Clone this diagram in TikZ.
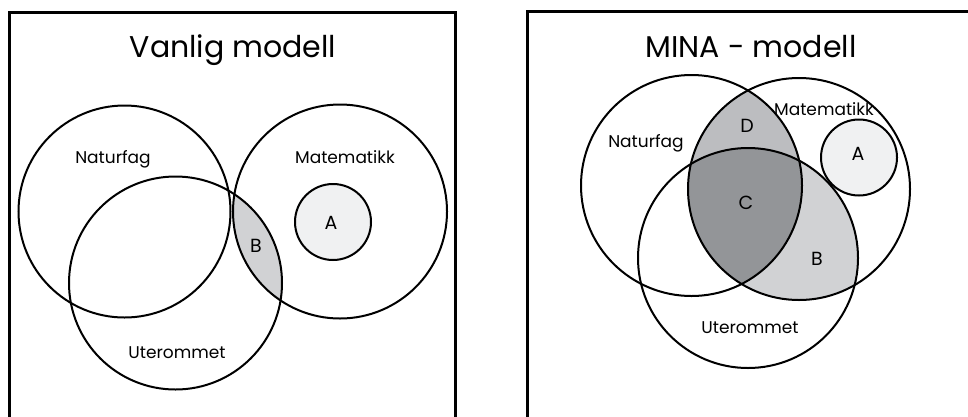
\documentclass[tikz,border=0pt]{standalone}
\usepackage{fontspec}
\setmainfont{Poppins}

\definecolor{lysA}{HTML}{F0F1F2}
\definecolor{graaB}{HTML}{D1D2D4}
\definecolor{graaD}{HTML}{BCBDC0}
\definecolor{graaC}{HTML}{939598}

\begin{document}
\begin{tikzpicture}[
    x=1pt, y=-1pt,
    ring/.style={
        draw,
        circle,
        line width=2pt,
        inner sep=0pt
    },
    ramme/.style={
        draw,
        line width=3pt
    },
    tittel/.style={
        anchor=base,
        font=\fontsize{30}{36}\selectfont
    },
    etikett/.style={
        anchor=base,
        font=\fontsize{17}{20}\selectfont
    },
    bokstav/.style={
        anchor=base,
        font=\fontsize{19}{22}\selectfont
    }]

\useasboundingbox (0,0) rectangle (968,416);
\clip (0,0) rectangle (968,416);

% Rammer
\draw[ramme] (9,430) -- (9,12) -- (455,12) -- (455,430);
\draw[ramme] (527,430) -- (527,11) -- (980,11);


% Sentre, vanlig modell
\coordinate (natV) at (124.5,211.5);
\coordinate (matV) at (340,211.5);
\coordinate (uteV) at (175.5,283);
\coordinate (aV) at (333,222);

% Sentre, MINA-modell
\coordinate (natM) at (691.5,185.5);
\coordinate (matM) at (799,189);
\coordinate (uteM) at (748,258);
\coordinate (aM) at (859,157.5);


% Skraverte felt
\begin{scope}
    \clip (matV) circle (107);
    \fill[graaB] (uteV) circle (106.5);
\end{scope}

\begin{scope}
    \clip (matM) circle (111);
    \fill[graaB] (uteM) circle (110);
\end{scope}

\begin{scope}
    \clip (natM) circle (110.5);
    \fill[graaD] (matM) circle (111);
    \clip (matM) circle (111);
    \fill[graaC] (uteM) circle (110);
\end{scope}


% Sirkler, vanlig modell
\node[ring, minimum size=212pt] (natVring) at (natV) {};
\node[ring, minimum size=214pt] (matVring) at (matV) {};
\node[ring, minimum size=213pt] (uteVring) at (uteV) {};
\node[ring, fill=lysA, minimum size=76pt] (aVring) at (aV) {};

% Sirkler, MINA-modell
\node[ring, minimum size=221pt] (natMring) at (natM) {};
\node[ring, minimum size=222pt] (matMring) at (matM) {};
\node[ring, minimum size=220pt] (uteMring) at (uteM) {};
\node[ring, fill=lysA, minimum size=76pt] (aMring) at (aM) {};


% Titler
\node[tittel] (tittelV) at (233,57) {Vanlig modell};
\node[tittel] (tittelM) at (751,57) {MINA - modell};


% Etiketter, vanlig modell
\node[etikett] (natVtekst) at (113,163) {Naturfag};
\node[etikett] (matVtekst) at (345,163) {Matematikk};
\node[etikett] (uteVtekst) at (177,358) {Uterommet};
\node[bokstav] (aVtekst) at (331,229) {A};
\node[bokstav] (bVtekst) at (256,252) {B};

% Etiketter, MINA-modell
\node[etikett] (natMtekst) at (646,147) {Naturfag};
\node[etikett] (matMtekst) at (824,115) {Matematikk};
\node[etikett] (uteMtekst) at (750,333) {Uterommet};
\node[bokstav] (aMtekst) at (858,160) {A};
\node[bokstav] (bMtekst) at (817,265) {B};
\node[bokstav] (cMtekst) at (746,209) {C};
\node[bokstav] (dMtekst) at (747,132) {D};

\end{tikzpicture}
\end{document}
